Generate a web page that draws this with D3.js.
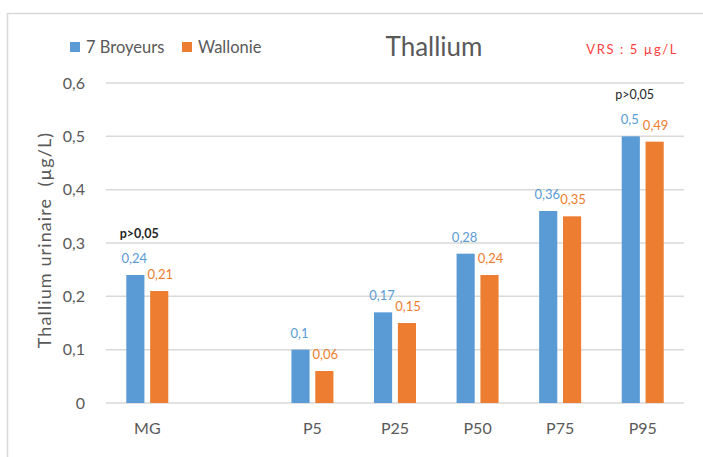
<!DOCTYPE html>
<html>
<head>
<meta charset="utf-8">
<script src="https://cdn.jsdelivr.net/npm/d3@7"></script>
<style>
  body { margin: 0; background: #fff; }
  svg { display: block; font-family: Lato, "Open Sans", sans-serif; }
</style>
</head>
<body>
<div id="vis"></div>
<script>
var categories = ['MG', '', 'P5', 'P25', 'P50', 'P75', 'P95'];
var seriesNames = ['7 Broyeurs', 'Wallonie'];
var broyeurs = [0.24, null, 0.1, 0.17, 0.28, 0.36, 0.5];
var wallonie = [0.21, null, 0.06, 0.15, 0.24, 0.35, 0.49];
var yTicks = [0, 0.1, 0.2, 0.3, 0.4, 0.5, 0.6];
var pNotes = [{ cat: 'MG', text: 'p>0,05', bold: true }, { cat: 'P95', text: 'p>0,05', bold: false }];

var width = 703;
var height = 457;
var margin = { top: 83, left: 106, bottom: 53, right: 19 };
var colors = ['#5B9BD5', '#ED7D31'];
var grey = '#595959';

var fmt = function (v) { return String(v).replace('.', ','); };

var svg = d3.select('#vis').append('svg').attr('width', width).attr('height', height);

// chart frame
svg.append('rect')
  .attr('x', 7.5).attr('y', 13.5)
  .attr('width', width + 10).attr('height', height)
  .attr('fill', 'none').attr('stroke', '#d9d9d9').attr('stroke-width', 1.5);

var x0 = d3.scaleBand().domain(categories).range([margin.left, width - margin.right]);
var x1 = d3.scaleBand().domain([0, 1]).range([0, 42]).paddingInner(0.24);
var y = d3.scaleLinear().domain([0, 0.6]).range([height - margin.bottom - 1, margin.top]);

var groupX = function (c) { return x0(c) + x0.bandwidth() / 2 - 21; };

// gridlines
svg.append('g').selectAll('line').data(yTicks).enter().append('line')
  .attr('x1', margin.left).attr('x2', width - margin.right)
  .attr('y1', function (d) { return y(d); }).attr('y2', function (d) { return y(d); })
  .attr('stroke', '#d9d9d9').attr('stroke-width', 1.5);

// y axis labels
var yAxis = svg.append('g').attr('transform', 'translate(' + (margin.left - 18) + ',0)')
  .call(d3.axisLeft(y).tickValues(yTicks).tickSize(0).tickFormat(fmt));
yAxis.select('.domain').remove();
yAxis.selectAll('text').attr('fill', grey).attr('font-size', 16).attr('font-family', 'Lato, sans-serif');

// x axis labels
var xAxis = svg.append('g').attr('transform', 'translate(0,' + (height - margin.bottom + 16) + ')')
  .call(d3.axisBottom(x0).tickSize(0));
xAxis.select('.domain').remove();
xAxis.selectAll('text').attr('fill', grey).attr('font-size', 16).attr('font-family', 'Lato, sans-serif');

var series = [broyeurs, wallonie];

series.forEach(function (vals, s) {
  var rows = categories.map(function (c, i) { return { cat: c, v: vals[i] }; })
    .filter(function (d) { return d.v !== null; });

  svg.append('g').selectAll('rect').data(rows).enter().append('rect')
    .attr('x', function (d) { return groupX(d.cat) + x1(s); })
    .attr('y', function (d) { return y(d.v); })
    .attr('width', x1.bandwidth())
    .attr('height', function (d) { return y(0) - y(d.v); })
    .attr('fill', colors[s]);

  svg.append('g').selectAll('text').data(rows).enter().append('text')
    .attr('x', function (d) { return groupX(d.cat) + x1(s) + x1.bandwidth() / 2 + (s === 0 ? -1 : 1); })
    .attr('y', function (d) { return y(d.v) - 12; })
    .attr('text-anchor', 'middle')
    .attr('font-size', 13)
    .attr('fill', colors[s])
    .text(function (d) { return fmt(d.v); });
});

// significance notes
svg.append('g').selectAll('text').data(pNotes).enter().append('text')
  .attr('x', function (d) { return groupX(d.cat) + 21 - 8; })
  .attr('y', function (d) {
    var i = categories.indexOf(d.cat);
    return y(Math.max(broyeurs[i], wallonie[i])) - 37;
  })
  .attr('text-anchor', 'middle')
  .attr('font-size', 12.5)
  .attr('font-weight', function (d) { return d.bold ? 'bold' : 'normal'; })
  .attr('fill', '#262626')
  .text(function (d) { return d.text; });

// title
svg.append('text')
  .attr('x', 434).attr('y', 56)
  .attr('text-anchor', 'middle')
  .attr('font-size', 26)
  .attr('fill', grey)
  .text('Thallium');

svg.append('text')
  .attr('x', 678).attr('y', 54)
  .attr('text-anchor', 'end')
  .attr('font-size', 13)
  .attr('letter-spacing', 1.6)
  .attr('fill', '#FF4040')
  .text('VRS : 5 µg/L');

// legend
var legend = svg.append('g').attr('transform', 'translate(70,40)');
var lx = [0, 112];
seriesNames.forEach(function (name, i) {
  legend.append('rect').attr('x', lx[i]).attr('y', 2).attr('width', 10).attr('height', 10).attr('fill', colors[i]);
  legend.append('text').attr('x', lx[i] + 16).attr('y', 12.5)
    .attr('font-size', 16.5).attr('fill', grey).text(name);
});

// y axis title
svg.append('text')
  .attr('transform', 'translate(51,240) rotate(-90)')
  .attr('text-anchor', 'middle')
  .attr('font-size', 18)
  .attr('letter-spacing', 1.1)
  .attr('fill', grey)
  .attr('xml:space', 'preserve')
  .text('Thallium urinaire  (µg/L)');
</script>
</body>
</html>
